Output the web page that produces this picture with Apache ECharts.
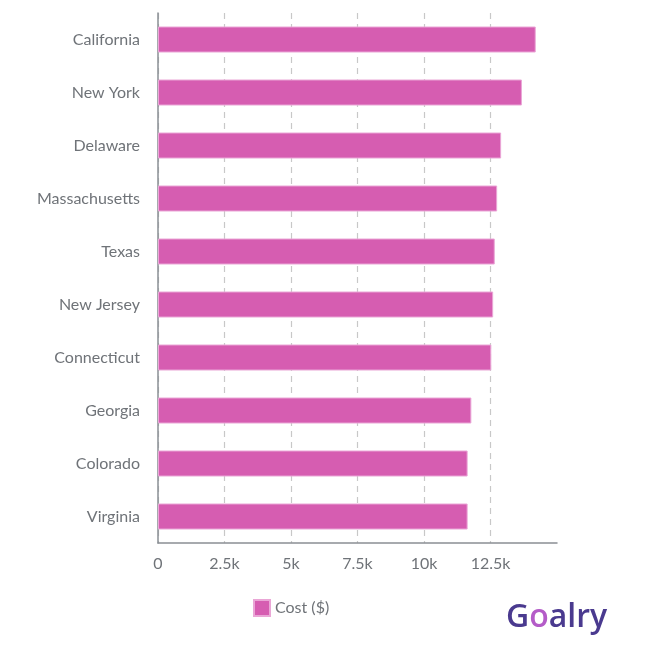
<!DOCTYPE html>
<html>
<head>
<meta charset="utf-8">
<script src="https://cdn.jsdelivr.net/npm/echarts@6/dist/echarts.min.js"></script>
<style>
  html, body { margin: 0; padding: 0; background: #fff; }
  #main { width: 651px; height: 649px; }
</style>
</head>
<body>
<div id="main"></div>
<script>
// data
var states = ['California', 'New York', 'Delaware', 'Massachusetts', 'Texas',
              'New Jersey', 'Connecticut', 'Georgia', 'Colorado', 'Virginia'];
var costs = [14200, 13680, 12900, 12750, 12660, 12600, 12530, 11780, 11640, 11640];
var tickLabels = ['0', '2.5k', '5k', '7.5k', '10k', '12.5k'];
var seriesName = 'Cost ($)';

var myChart = echarts.init(document.getElementById('main'));

var labelFont = 'Lato, "Open Sans", sans-serif';

var option = {
  animation: false,
  grid: { left: 158, right: 94, top: 13, bottom: 106, containLabel: false },
  legend: {
    data: [seriesName],
    left: 248,
    top: 594,
    itemWidth: 16,
    itemHeight: 16,
    icon: 'rect',
    itemGap: 8,
    textStyle: { color: '#6f7378', fontSize: 16, fontFamily: labelFont }
  },
  xAxis: {
    type: 'value',
    min: 0,
    max: 15000,
    interval: 2500,
    axisLine: { show: true, lineStyle: { color: '#8a8f94', width: 1.5 } },
    axisTick: { show: false },
    axisLabel: {
      color: '#6f7378',
      fontSize: 16,
      fontFamily: labelFont,
      margin: 13,
      showMaxLabel: false,
      formatter: function (v) { return tickLabels[Math.round(v / 2500)] || ''; }
    },
    splitLine: {
      show: true,
      showMaxLine: false,
      lineStyle: { color: '#c8c8c8', type: [6, 5], width: 1.2 }
    }
  },
  yAxis: {
    type: 'category',
    data: states,
    inverse: true,
    axisLine: { show: true, lineStyle: { color: '#8a8f94', width: 1.5 } },
    axisTick: { show: false },
    axisLabel: { color: '#6f7378', fontSize: 16, fontFamily: labelFont, margin: 18 }
  },
  series: [{
    name: seriesName,
    type: 'bar',
    data: costs,
    barWidth: 26,
    itemStyle: { color: '#d65db1', borderColor: '#eaa6d6', borderWidth: 1 }
  }],
  graphic: [{
    type: 'text',
    left: 506,
    top: 602,
    style: {
      text: 'G{p|o}alry',
      fill: '#4a3a8f',
      font: '600 32px "Open Sans", Lato, sans-serif',
      rich: {
        p: { fill: '#b45cc8', font: '600 32px "Open Sans", Lato, sans-serif' }
      }
    }
  }]
};

myChart.setOption(option);
</script>
</body>
</html>
